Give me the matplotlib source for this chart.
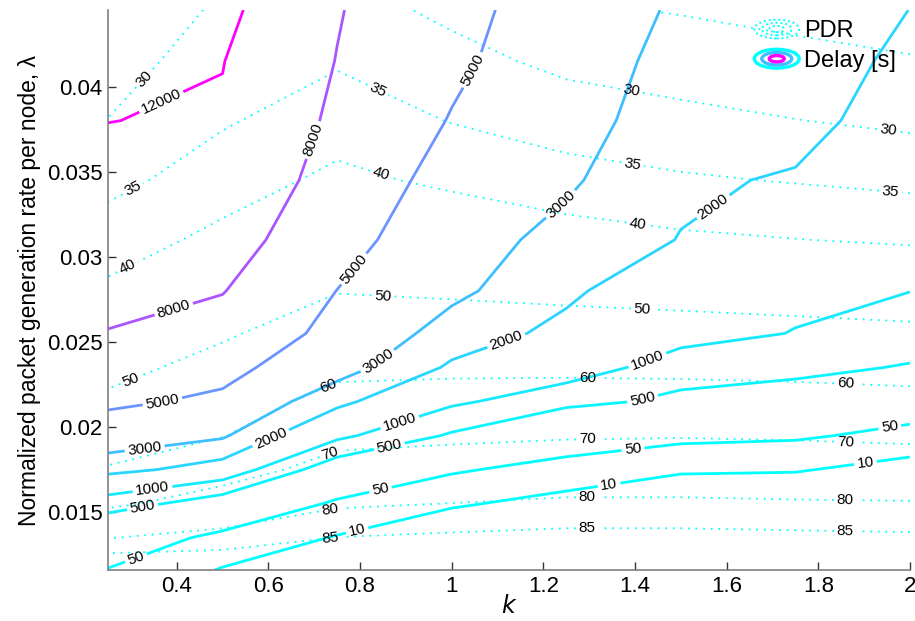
import numpy as np
import matplotlib
matplotlib.use("Agg")
import matplotlib.pyplot as plt
from matplotlib.colors import Normalize
from matplotlib.legend_handler import HandlerBase
from matplotlib.lines import Line2D
from matplotlib.patches import Ellipse
from matplotlib.ticker import FuncFormatter

plt.rcParams["font.family"] = ["Liberation Sans", "DejaVu Sans"]

# grid of the evaluated operating points
k_values = [0.25, 0.5, 0.75, 1.0, 1.25, 1.5, 1.75, 2.0]
lambda_values = [0.0116, 0.0135, 0.0155, 0.0175, 0.0195, 0.0215, 0.0235,
                 0.0255, 0.028, 0.031, 0.0345, 0.038, 0.0415, 0.0445]

# mean delay [s]; rows follow lambda_values, columns follow k_values
delay_s = [
    [46.3, 8.91, 2.28, 0.574, 0.291, 0.2, 0.3, 0.3],
    [171, 31.3, 8.97, 2.55, 1.24, 0.6, 0.8, 0.5],
    [746, 324, 38.0, 12.3, 5.69, 1.82, 1.86, 0.81],
    [2328, 1629, 305, 61.7, 26.1, 12.9, 11.5, 5.08],
    [3917, 3184, 1183, 457, 146, 77.1, 63.4, 31.6],
    [5420, 4613, 2259, 1135, 653, 411, 371, 125],
    [6561, 5715, 3631, 1875, 1426, 731, 583, 478],
    [7925, 6761, 4467, 2506, 1778, 1259, 977, 676],
    [8670, 8128, 4977, 3311, 2173, 1403, 1164, 1010],
    [9572, 9550, 5984, 3597, 2661, 1968, 1445, 1143],
    [10765, 10715, 6918, 4188, 3184, 2158, 1905, 1322],
    [12050, 11614, 7482, 4887, 3597, 2371, 2388, 1528],
    [12850, 12106, 7925, 5433, 3802, 2600, 2630, 1766],
    [13580, 13062, 8185, 5754, 3981, 2818, 2818, 1990],
]

# packet delivery ratio [%] on the same grid
pdr_pct = [
    [90.6, 89.5, 90.6, 91.5, 91.8, 91.8, 91.4, 90.9],
    [79.8, 82.3, 85.1, 85.9, 86.5, 86.5, 86.2, 85.9],
    [68.5, 74.0, 79.2, 80.1, 81.1, 81.1, 80.7, 80.5],
    [60.6, 66.4, 73.1, 74.2, 75.2, 75.3, 75.0, 74.5],
    [55.8, 59.7, 67.5, 68.5, 69.3, 69.6, 69.2, 68.5],
    [51.3, 56.1, 62.5, 63.3, 63.7, 63.7, 63.3, 62.5],
    [47.8, 52.5, 58.1, 58.4, 58.4, 58.1, 57.6, 56.9],
    [44.8, 49.1, 54.3, 54.0, 53.6, 53.1, 52.4, 51.6],
    [41.0, 45.6, 49.7, 49.0, 48.1, 47.3, 46.5, 45.8],
    [37.4, 41.4, 45.8, 44.2, 42.3, 40.9, 40.1, 39.3],
    [33.6, 37.5, 41.2, 39.0, 36.9, 35.6, 34.7, 33.8],
    [30.1, 34.5, 37.6, 34.8, 32.7, 31.3, 30.1, 29.0],
    [27.9, 32.5, 34.5, 31.6, 28.8, 27.6, 26.5, 25.4],
    [26.1, 30.8, 32.1, 28.9, 25.6, 24.7, 23.5, 22.4],
]

delay_levels = [10, 50, 500, 1000, 2000, 3000, 5000, 8000, 12000]
pdr_levels = [25, 30, 35, 40, 50, 60, 70, 80, 85]

# where each contour gets its inline label (k, lambda)
delay_label_spots = {
    12000: [(0.364, 0.03924)],
    8000: [(0.695, 0.03688), (0.396, 0.02671)],
    5000: [(1.036, 0.04112), (0.794, 0.02912), (0.37, 0.02129)],
    3000: [(1.243, 0.03294), (0.833, 0.02406), (0.331, 0.01853)],
    2000: [(1.58, 0.03259), (1.121, 0.02494), (0.61, 0.01906)],
    1000: [(1.427, 0.02394), (0.887, 0.02024), (0.348, 0.01618)],
    500: [(1.416, 0.02171), (0.866, 0.01865), (0.326, 0.01524)],
    50: [(1.957, 0.01982), (1.396, 0.01865), (0.844, 0.01641), (0.313, 0.01218)],
    10: [(1.903, 0.01788), (1.342, 0.01688), (0.794, 0.01388)],
}
pdr_label_spots = {
    25: [(1.42, 0.0445)],
    30: [(0.331, 0.04041), (1.39, 0.03953), (1.951, 0.03706)],
    35: [(0.305, 0.03394), (0.837, 0.03971), (1.394, 0.03529), (1.957, 0.03365)],
    40: [(0.298, 0.02912), (0.844, 0.03471), (1.405, 0.03171)],
    50: [(0.305, 0.02247), (0.85, 0.02759), (1.416, 0.02671)],
    60: [(0.73, 0.02247), (1.296, 0.02276), (1.859, 0.02235)],
    70: [(0.735, 0.01847), (1.296, 0.01924), (1.859, 0.01906)],
    80: [(0.735, 0.01512), (1.296, 0.01588), (1.859, 0.0157)],
    85: [(0.735, 0.01353), (1.296, 0.01406), (1.859, 0.01382)],
}


class RingsHandler(HandlerBase):
    """Legend key drawn as concentric ellipses, like a contour icon."""

    def __init__(self, colors, lw, ls):
        super().__init__()
        self.colors = colors
        self.lw = lw
        self.ls = ls

    def create_artists(self, legend, orig_handle, xdescent, ydescent,
                       width, height, fontsize, trans):
        cx = 0.5 * width - xdescent
        cy = 0.5 * height - ydescent
        rings = []
        n = len(self.colors)
        for i, c in enumerate(self.colors):
            s = 1.0 - i / n
            rings.append(Ellipse((cx, cy), width * s, height * 1.0 * s,
                                 fill=False, edgecolor=c, lw=self.lw,
                                 ls=self.ls, transform=trans))
        return rings


K, LAM = np.meshgrid(k_values, lambda_values)
delay = np.array(delay_s)
pdr = np.array(pdr_pct)

cool = plt.get_cmap("cool")
norm = Normalize(vmin=0, vmax=max(delay_levels))

fig = plt.figure(figsize=(9.15, 6.21), dpi=100)
ax = fig.add_axes([0.118, 0.082, 0.8765, 0.902])

# PDR, thin dotted cyan; one contour set per level so each can be labelled
for lev in pdr_levels:
    cs = ax.contour(K, LAM, pdr, levels=[lev], colors=[cool(0.0)],
                    linewidths=1.3)
    cs.set_linestyle((0, (1, 3.2)))
    txts = ax.clabel(cs, manual=pdr_label_spots[lev], fmt={lev: str(lev)},
                     fontsize=11, colors="k", inline_spacing=3)
    if lev == 25:
        # this label sits on the top edge and is cut by the axes
        for t in txts:
            x, y = t.get_position()
            t.set_position((x, y + 0.0004))
            t.set_clip_on(True)

# delay, contoured on a log scale so lines sit between grid points sensibly
log_delay = np.log10(delay)
for lev in delay_levels:
    lv = np.log10(lev)
    cs = ax.contour(K, LAM, log_delay, levels=[lv], colors=[cool(norm(lev))],
                    linewidths=2.0)
    ax.clabel(cs, manual=delay_label_spots[lev], fmt={lv: str(lev)},
              fontsize=11, colors="k", inline_spacing=3)

ax.set_xlim(0.25, 2)
ax.set_ylim(0.0116, 0.0445)
ax.set_xticks(np.arange(0.4, 2.01, 0.2))
ax.set_yticks([0.015, 0.02, 0.025, 0.03, 0.035, 0.04])
fmt_g = FuncFormatter(lambda v, p: f"{v:g}")
ax.xaxis.set_major_formatter(fmt_g)
ax.yaxis.set_major_formatter(fmt_g)
ax.tick_params(direction="in", length=6, width=1, labelsize=16, color="0.2",
               pad=4)
for side in ("top", "right"):
    ax.spines[side].set_visible(False)
for side in ("left", "bottom"):
    ax.spines[side].set_color("0.5")
    ax.spines[side].set_linewidth(1.2)

ax.set_xlabel("$k$", fontsize=17, labelpad=-1)
ax.set_ylabel("Normalized packet generation rate per node, λ", fontsize=16.5,
              labelpad=4)

pdr_key = Line2D([], [])
delay_key = Line2D([], [])
leg = ax.legend(
    [pdr_key, delay_key], ["PDR", "Delay [s]"],
    handler_map={
        pdr_key: RingsHandler([cool(0.0)] * 3, 1.4, (0, (1, 1.5))),
        delay_key: RingsHandler([cool(0.0), cool(0.25), cool(1.0)], 2.4, "-"),
    },
    loc="upper right", bbox_to_anchor=(1.0, 1.008), frameon=False,
    fontsize=17, handlelength=1.9, handleheight=0.85, handletextpad=0.2,
    labelspacing=0.3, borderaxespad=0.2,
)

fig.savefig("out.png", dpi=100, facecolor="white")
